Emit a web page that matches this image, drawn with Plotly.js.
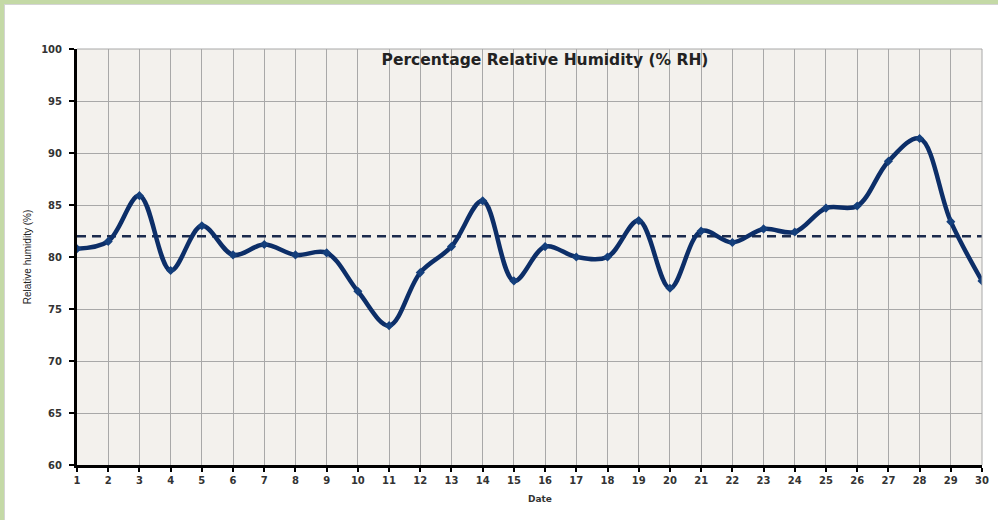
<!DOCTYPE html>
<html>
<head>
<meta charset="utf-8">
<script src="https://cdn.plot.ly/plotly-3.0.1.min.js"></script>
<style>
  html, body { margin: 0; padding: 0; background: #ffffff; }
  #wrap { position: relative; width: 998px; height: 520px; overflow: hidden; }
  #chart { position: absolute; left: 0; top: 0; width: 998px; height: 520px; }
  #frame { position: absolute; left: 0; top: 0; width: 998px; height: 520px; box-sizing: border-box;
           border-left: 4px solid #c4d9a6; border-top: 4px solid #c4d9a6; pointer-events: none; }
  #frame2 { position: absolute; left: 4px; top: 4px; width: 994px; height: 516px; box-sizing: border-box;
           border-left: 1px solid #d4d4d4; border-top: 1px solid #d4d4d4; pointer-events: none; }
</style>
</head>
<body>
<div id="wrap">
  <div id="chart"></div>
  <div id="frame"></div>
  <div id="frame2"></div>
</div>
<script>
// Data
const dates = [1,2,3,4,5,6,7,8,9,10,11,12,13,14,15,16,17,18,19,20,21,22,23,24,25,26,27,28,29,30];
const humidity = [80.8, 81.5, 85.9, 78.7, 83.0, 80.2, 81.2, 80.2, 80.4, 76.7,
                  73.4, 78.5, 81.0, 85.4, 77.7, 81.0, 80.0, 80.0, 83.5, 77.0,
                  82.5, 81.4, 82.7, 82.4, 84.7, 84.9, 89.2, 91.4, 83.4, 77.7];
const referenceLevel = 82;
const yTicks = [60, 65, 70, 75, 80, 85, 90, 95, 100];

const tickFont = {family: 'DejaVu Sans', size: 10, color: '#333333', weight: 'bold'};

const traces = [
  {
    x: [dates[0], dates[dates.length - 1]],
    y: [referenceLevel, referenceLevel],
    type: 'scatter',
    mode: 'lines',
    line: {color: '#1b2b4d', width: 2.5, dash: '9px,6px'},
    hoverinfo: 'skip',
    showlegend: false
  },
  {
    x: dates,
    y: humidity,
    type: 'scatter',
    mode: 'lines+markers',
    line: {color: '#0c2e68', width: 4.5, shape: 'spline', smoothing: 1},
    marker: {symbol: 'diamond', size: 7, color: '#143f7c'},
    showlegend: false
  }
];

const layout = {
  width: 998,
  height: 520,
  margin: {l: 77, r: 16, t: 49, b: 55},
  paper_bgcolor: '#ffffff',
  plot_bgcolor: '#f3f1ed',
  title: {
    text: '<b>Percentage Relative Humidity (% RH)</b>',
    font: {family: 'DejaVu Sans', size: 15.5, color: '#222222'},
    xref: 'container', yref: 'container',
    x: 545 / 998, y: 1 - 60 / 520,
    xanchor: 'center', yanchor: 'middle'
  },
  xaxis: {
    range: [1, 30],
    tickmode: 'array',
    tickvals: dates,
    ticktext: dates.map(String),
    showgrid: true,
    gridcolor: '#a8a8a8',
    gridwidth: 1,
    showline: true,
    linecolor: '#000000',
    linewidth: 3,
    ticks: 'outside',
    ticklen: 4,
    tickwidth: 2,
    tickcolor: '#000000',
    tickfont: tickFont,
    zeroline: false,
    fixedrange: true
  },
  yaxis: {
    range: [60, 100],
    tickmode: 'array',
    tickvals: yTicks,
    ticktext: yTicks.map(String),
    showgrid: true,
    gridcolor: '#a8a8a8',
    gridwidth: 1,
    showline: true,
    linecolor: '#000000',
    linewidth: 3,
    ticks: 'outside',
    ticklen: 5,
    tickwidth: 2,
    tickcolor: '#000000',
    tickfont: tickFont,
    ticklabelstandoff: 5,
    zeroline: false,
    fixedrange: true,
    title: {
      text: 'Relative humidity (%)',
      font: {family: 'Liberation Sans', size: 10, color: '#222222'},
      standoff: 8
    }
  },
  annotations: [
    {
      text: '<b>Date</b>',
      xref: 'paper', yref: 'paper',
      x: (540 - 77) / 905, y: -(499 - 465) / 416,
      xanchor: 'center', yanchor: 'middle',
      showarrow: false,
      font: {family: 'DejaVu Sans', size: 9, color: '#333333'}
    }
  ],
  shapes: [
    {type: 'line', xref: 'paper', yref: 'paper', x0: 0, x1: 1, y0: 1, y1: 1,
     line: {color: '#a8a8a8', width: 1}},
    {type: 'line', xref: 'paper', yref: 'paper', x0: 1, x1: 1, y0: 0, y1: 1,
     line: {color: '#a8a8a8', width: 1}}
  ]
};

Plotly.newPlot('chart', traces, layout, {displayModeBar: false, staticPlot: true});
</script>
</body>
</html>
